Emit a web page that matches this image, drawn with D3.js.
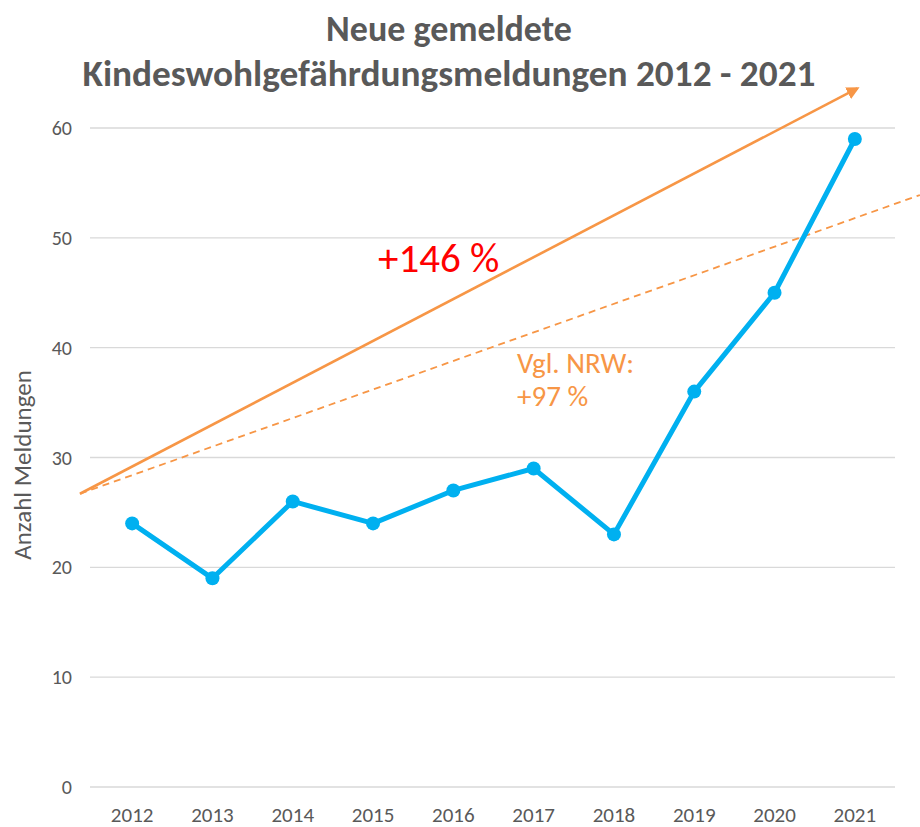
<!DOCTYPE html>
<html lang="de">
<head>
<meta charset="utf-8">
<title>Kindeswohlgefährdungsmeldungen</title>
<script src="https://d3js.org/d3.v7.min.js"></script>
<style>
  body { margin: 0; background: #fff; }
  text { font-family: Carlito, "Open Sans", "Liberation Sans", sans-serif; }
</style>
</head>
<body>
<div class="chart"></div>
<script>
const years = ["2012", "2013", "2014", "2015", "2016", "2017", "2018", "2019", "2020", "2021"];
const meldungen = [24, 19, 26, 24, 27, 29, 23, 36, 45, 59];
const yTicks = [0, 10, 20, 30, 40, 50, 60];
// trend arrows in data units: [year index, value]
const trendKreis = [[-0.65, 26.7], [9.03, 63.6]];
const trendNRW = [[-0.65, 26.7], [9.81, 53.9]];

const width = 920, height = 827;
const plot = {left: 92, right: 895, top: 128, bottom: 787};

const svg = d3.select(".chart").append("svg")
  .attr("width", width)
  .attr("height", height);

const x = d3.scalePoint().domain(years).range([plot.left, plot.right]).padding(0.5);
const xi = d3.scaleLinear().domain([0, years.length - 1]).range([x(years[0]), x(years[years.length - 1])]);
const y = d3.scaleLinear().domain([0, 60]).range([plot.bottom, plot.top]);

// gridlines
svg.append("g")
  .selectAll("line")
  .data(yTicks)
  .join("line")
  .attr("x1", plot.left - 2).attr("x2", plot.right)
  .attr("y1", d => y(d)).attr("y2", d => y(d))
  .attr("stroke", "#d9d9d9")
  .attr("stroke-width", 1.3);

// y tick labels
svg.append("g")
  .selectAll("text")
  .data(yTicks)
  .join("text")
  .attr("x", 72)
  .attr("y", d => y(d) + 7)
  .attr("text-anchor", "end")
  .attr("font-size", 20)
  .attr("fill", "#595959")
  .text(d => d);

// x tick labels
svg.append("g")
  .selectAll("text")
  .data(years)
  .join("text")
  .attr("x", d => x(d))
  .attr("y", 822)
  .attr("text-anchor", "middle")
  .attr("font-size", 21)
  .attr("fill", "#595959")
  .text(d => d);

// y axis title
svg.append("text")
  .attr("transform", "translate(31,465) rotate(-90)")
  .attr("text-anchor", "middle")
  .attr("font-size", 25)
  .attr("fill", "#595959")
  .text("Anzahl Meldungen");

// title
svg.append("text")
  .attr("x", 449).attr("y", 41)
  .attr("text-anchor", "middle")
  .attr("font-size", 36)
  .attr("font-weight", "bold")
  .attr("fill", "#595959")
  .text("Neue gemeldete");
svg.append("text")
  .attr("x", 449).attr("y", 86)
  .attr("text-anchor", "middle")
  .attr("font-size", 36)
  .attr("font-weight", "bold")
  .attr("fill", "#595959")
  .attr("textLength", 733)
  .attr("lengthAdjust", "spacingAndGlyphs")
  .text("Kindeswohlgefährdungsmeldungen 2012 - 2021");

// arrowhead
svg.append("defs").append("marker")
  .attr("id", "head")
  .attr("viewBox", "0 0 10 10")
  .attr("refX", 8).attr("refY", 5)
  .attr("markerWidth", 5).attr("markerHeight", 5)
  .attr("orient", "auto")
  .attr("markerUnits", "strokeWidth")
  .append("path")
  .attr("d", "M0,0 L10,5 L0,10 Z")
  .attr("fill", "#F79646");

const trendLine = d3.line().x(d => xi(d[0])).y(d => y(d[1]));

svg.append("path")
  .attr("d", trendLine(trendNRW))
  .attr("fill", "none")
  .attr("stroke", "#F79646")
  .attr("stroke-width", 1.8)
  .attr("stroke-dasharray", "7,5");

svg.append("path")
  .attr("d", trendLine(trendKreis))
  .attr("fill", "none")
  .attr("stroke", "#F79646")
  .attr("stroke-width", 2.6)
  .attr("marker-end", "url(#head)");

// data line
const line = d3.line().x((d, i) => x(years[i])).y(d => y(d));
svg.append("path")
  .attr("d", line(meldungen))
  .attr("fill", "none")
  .attr("stroke", "#00B0F0")
  .attr("stroke-width", 5)
  .attr("stroke-linejoin", "round");

svg.append("g")
  .selectAll("circle")
  .data(meldungen)
  .join("circle")
  .attr("cx", (d, i) => x(years[i]))
  .attr("cy", d => y(d))
  .attr("r", 7)
  .attr("fill", "#00B0F0");

// annotations
svg.append("text")
  .attr("x", 378).attr("y", 272)
  .attr("font-size", 41)
  .attr("fill", "#FF0000")
  .text("+146 %");

svg.append("text")
  .attr("x", 517).attr("y", 373)
  .attr("font-size", 29)
  .attr("fill", "#F79646")
  .text("Vgl. NRW:");
svg.append("text")
  .attr("x", 517).attr("y", 406)
  .attr("font-size", 29)
  .attr("fill", "#F79646")
  .text("+97 %");
</script>
</body>
</html>
